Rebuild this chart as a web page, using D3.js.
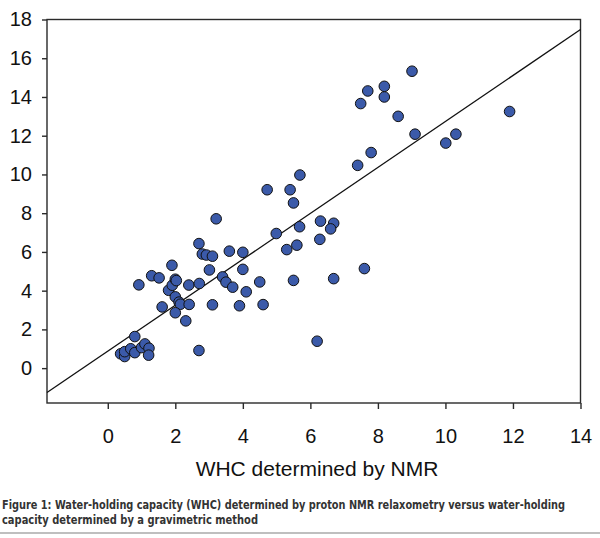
<!DOCTYPE html>
<html>
<head>
<meta charset="utf-8">
<script src="https://cdn.jsdelivr.net/npm/d3@7"></script>
<style>
  html, body { margin: 0; padding: 0; background: #fff; }
  svg { display: block; }
</style>
</head>
<body>
<svg id="chart" width="600" height="538"></svg>
<script>
// ---- data ----
const gravimetric = [0.38,0.50,0.50,0.68,0.80,0.80,1.00,1.10,1.22,1.21,
  0.92,1.30,1.52,1.61,1.90,1.80,1.91,2.00,2.03,2.00,2.11,2.15,2.00,2.31,2.40,2.41,
  2.70,2.71,2.70,2.80,2.92,3.10,3.01,3.10,3.21,3.40,3.50,3.60,3.70,3.90,4.00,4.00,
  4.10,4.50,4.60,4.99,5.30,5.50,5.50,5.60,5.68,4.72,5.40,5.69,6.30,6.69,6.60,6.28,
  6.69,7.60,6.20,7.40,7.80,7.49,7.70,8.19,8.19,8.60,9.01,9.10,10.01,10.31,11.90];
const nmr = [0.74,0.60,0.85,1.00,0.80,1.63,1.06,1.25,1.03,0.67,
  4.30,4.77,4.66,3.16,5.31,4.02,4.28,4.59,4.52,3.68,3.41,3.30,2.86,2.44,4.29,3.29,
  6.43,4.37,0.91,5.89,5.84,5.78,5.07,3.27,7.71,4.71,4.44,6.04,4.18,3.22,5.98,5.10,
  3.94,4.45,3.28,6.95,6.12,4.53,8.53,6.35,7.30,9.21,9.21,9.97,7.59,7.48,7.19,6.65,
  4.62,5.14,1.39,10.47,11.13,13.66,14.31,14.55,14.00,13.00,15.33,12.08,11.62,12.08,13.25];
const fitX = [-1.8, 14];
const fitY = [-1.26, 17.48];
const xTicks = [0, 2, 4, 6, 8, 10, 12, 14];
const yTicks = [0, 2, 4, 6, 8, 10, 12, 14, 16, 18];
const xDomain = [-1.8, 14];
const yDomain = [-1.8, 18];
const xTitle = "WHC determined by NMR";
const captionLines = [
  "Figure 1: Water-holding capacity (WHC) determined by proton NMR relaxometry versus water-holding",
  "capacity determined by a gravimetric method"
];

// ---- drawing ----
const svg = d3.select("#chart");
const L = 47, R = 580.5, T = 19.5, B = 403;
const x = d3.scaleLinear().domain(xDomain).range([L, R]);
const y = d3.scaleLinear().domain(yDomain).range([B, T]);
const frameColor = "#2a2a2a";

// frame
svg.append("rect")
  .attr("x", L).attr("y", T).attr("width", R - L).attr("height", B - T)
  .attr("fill", "none").attr("stroke", frameColor).attr("stroke-width", 1.4);

// y axis
const yAxis = svg.append("g").attr("transform", `translate(${L},0)`)
  .call(d3.axisLeft(y).tickValues(yTicks).tickSize(5).tickPadding(10).tickFormat(d3.format("d")));
yAxis.select(".domain").remove();
yAxis.selectAll("line").attr("stroke", frameColor).attr("stroke-width", 1.4);
yAxis.selectAll("text").attr("font-family", "'Liberation Sans', Arial, sans-serif")
  .attr("font-size", 20).attr("fill", "#111");

// x axis
const xAxis = svg.append("g").attr("transform", `translate(0,${B})`)
  .call(d3.axisBottom(x).tickValues(xTicks).tickSize(6).tickPadding(20).tickFormat(d3.format("d")));
xAxis.select(".domain").remove();
xAxis.selectAll("line").attr("stroke", frameColor).attr("stroke-width", 1.4);
xAxis.selectAll("text").attr("font-family", "'Liberation Sans', Arial, sans-serif")
  .attr("font-size", 20).attr("fill", "#111");

// fit line
const fit = fitX.map((d, i) => ({ x: d, y: fitY[i] }));
svg.append("path").datum(fit)
  .attr("d", d3.line().x(d => x(d.x)).y(d => y(d.y)))
  .attr("fill", "none").attr("stroke", "#111").attr("stroke-width", 1.3);

// points
const pts = gravimetric.map((d, i) => ({ x: d, y: nmr[i] }));
svg.append("g").selectAll("circle").data(pts).join("circle")
  .attr("cx", d => x(d.x)).attr("cy", d => y(d.y)).attr("r", 5.3)
  .attr("fill", "#3b5aa9").attr("stroke", "#111").attr("stroke-width", 1);

// x title
svg.append("text").attr("x", 317).attr("y", 476).attr("text-anchor", "middle")
  .attr("font-family", "'Liberation Sans', Arial, sans-serif").attr("font-size", 21)
  .attr("fill", "#111").text(xTitle);

// caption
const capWidths = [563, 256];
svg.append("g").selectAll("text").data(captionLines).join("text")
  .attr("x", 2).attr("y", (d, i) => 509 + i * 14.5)
  .attr("font-family", "'DejaVu Sans Condensed', 'DejaVu Sans', sans-serif")
  .attr("font-stretch", "condensed")
  .attr("font-weight", "bold").attr("font-size", 11.5).attr("fill", "#333")
  .attr("textLength", (d, i) => capWidths[i]).attr("lengthAdjust", "spacingAndGlyphs")
  .text(d => d);

// bottom rule
svg.append("line").attr("x1", 0).attr("x2", 600).attr("y1", 533).attr("y2", 533)
  .attr("stroke", "#aaa").attr("stroke-width", 1.5);
</script>
</body>
</html>
